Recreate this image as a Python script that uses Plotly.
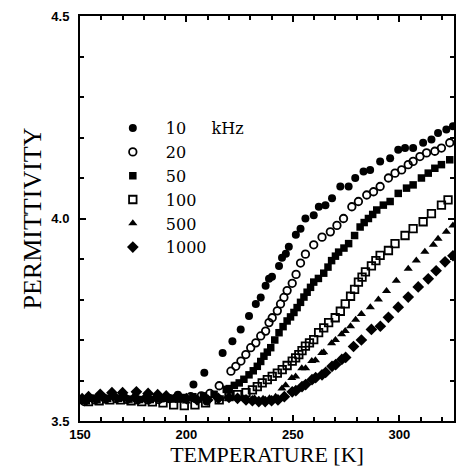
import plotly.graph_objects as go

# ---- data ----
labels = ["10\u00a0\u00a0\u00a0\u00a0\u00a0kHz", "20", "50", "100", "500", "1000"]

T10 = [151, 156, 161, 166, 171, 176, 181, 186, 191, 196, 203.3, 208.4, 209.5, 217, 221.6, 225.5, 229.4, 232.6, 234.9, 237.2,
       238.8, 240.2, 243.5, 244.9, 246.7, 248.1, 251.4, 253.6, 255.9, 259.8, 262.2, 265.3, 268.4, 272.3, 276.2, 279.3, 283.2,
       286.3, 291, 295.7, 299.5, 302.7, 306.5, 311.2, 315.1, 318.2, 322.1, 325.2]
V10 = [3.552, 3.556, 3.558, 3.560, 3.558, 3.556, 3.555, 3.556, 3.558, 3.565, 3.590, 3.619, 3.548, 3.668, 3.697, 3.726, 3.759,
       3.789, 3.805, 3.834, 3.851, 3.856, 3.883, 3.903, 3.913, 3.930, 3.960, 3.975, 4.000, 4.008, 4.029, 4.033, 4.050, 4.079,
       4.079, 4.100, 4.116, 4.120, 4.141, 4.149, 4.170, 4.174, 4.174, 4.187, 4.195, 4.211, 4.220, 4.228]

T20 = [152, 157, 162, 167, 172, 177, 182, 187, 192, 197, 202, 207, 211, 215.4, 220.9, 223.2, 225.6, 227.9, 230.2, 232.6,
       234.9, 237.2, 238.8, 240.3, 242.7, 244.2, 245.8, 247.3, 249.7, 251.5, 253.6, 255.9, 259.8, 263.7, 267.6, 270.7, 273.8,
       277.7, 280.8, 284.7, 287.9, 291, 294.9, 298, 301.1, 304.2, 306.5, 309.7, 312.8, 316.7, 319.8, 323.7]
V20 = [3.548, 3.552, 3.554, 3.555, 3.553, 3.552, 3.552, 3.553, 3.555, 3.557, 3.560, 3.562, 3.568, 3.587, 3.623, 3.635, 3.648,
       3.664, 3.681, 3.693, 3.710, 3.722, 3.743, 3.755, 3.772, 3.789, 3.805, 3.822, 3.840, 3.862, 3.890, 3.912, 3.935, 3.954,
       3.967, 3.983, 4.000, 4.029, 4.042, 4.058, 4.066, 4.079, 4.100, 4.112, 4.120, 4.133, 4.141, 4.153, 4.162, 4.166, 4.174,
       4.187]

T50 = [153, 158, 163, 168, 173, 178, 183, 188, 193, 198, 203, 208, 213, 218.7, 220.1, 222.5, 224.8, 227, 229.4, 231.4,
       233.3, 234.9, 236.4, 238, 239.6, 241.5, 243.5, 245.4, 247.3, 248.9, 250.5, 252, 253.6, 255.2, 256.7, 258.3, 259.8, 262,
       264.5, 266.5, 268.2, 270, 271.5, 274, 276.2, 279, 281.6, 283.5, 285.5, 287.5, 289.4, 292.5, 295.7, 299.5, 303.4, 306.5,
       310.4, 313.6, 316.7, 319.8, 323.7]
V50 = [3.550, 3.553, 3.556, 3.556, 3.554, 3.553, 3.553, 3.555, 3.556, 3.558, 3.560, 3.562, 3.566, 3.578, 3.580, 3.588, 3.594,
       3.603, 3.614, 3.624, 3.635, 3.647, 3.660, 3.670, 3.681, 3.700, 3.718, 3.733, 3.747, 3.757, 3.768, 3.780, 3.793, 3.806,
       3.818, 3.830, 3.843, 3.852, 3.865, 3.880, 3.896, 3.907, 3.917, 3.927, 3.938, 3.958, 3.979, 3.990, 4.000, 4.010, 4.021,
       4.033, 4.042, 4.062, 4.075, 4.083, 4.100, 4.112, 4.124, 4.133, 4.145]

T100 = [154, 159, 164, 169, 174, 179, 184, 189, 194, 199, 204, 209, 215.4, 220, 224, 228, 231, 233.3, 235.6, 238, 240.3,
        242.7, 245, 247.3, 249.7, 251.3, 252.8, 254.3, 255.9, 257.8, 259.8, 262.1, 264.5, 266.8, 269.9, 272.3, 274.6, 277.1,
        279, 280.8, 282.5, 284.1, 286.9, 289, 291, 294.9, 298, 302.7, 306.5, 311.2, 315.1, 319.8, 322.9]
V100 = [3.548, 3.550, 3.552, 3.552, 3.550, 3.548, 3.547, 3.545, 3.540, 3.538, 3.540, 3.545, 3.552, 3.560, 3.565, 3.570, 3.577,
        3.585, 3.594, 3.602, 3.610, 3.618, 3.627, 3.637, 3.648, 3.656, 3.664, 3.674, 3.685, 3.693, 3.701, 3.718, 3.730, 3.743,
        3.755, 3.771, 3.789, 3.808, 3.825, 3.843, 3.855, 3.868, 3.883, 3.896, 3.909, 3.921, 3.938, 3.958, 3.975, 3.992, 4.012,
        4.033, 4.046]

T500 = [155, 160, 165, 170, 175, 180, 185, 190, 195, 200, 205, 210, 216, 222, 227, 232, 236, 239, 241.9, 244.9, 246.6, 249.5,
        251.3, 254.2, 256, 258.9, 260.6, 263.6, 264.5, 268.2, 270, 272.9, 274.6, 277.1, 279.5, 282.2, 286.4, 290.2, 294, 298.6,
        304.2, 308, 312, 316, 318.2, 322.1, 325.2]
V500 = [3.552, 3.556, 3.560, 3.562, 3.560, 3.558, 3.556, 3.552, 3.550, 3.548, 3.550, 3.552, 3.555, 3.556, 3.556, 3.556, 3.555,
        3.556, 3.560, 3.580, 3.588, 3.606, 3.610, 3.630, 3.630, 3.648, 3.650, 3.668, 3.670, 3.692, 3.700, 3.714, 3.722, 3.734,
        3.750, 3.764, 3.781, 3.800, 3.821, 3.846, 3.876, 3.896, 3.918, 3.935, 3.950, 3.967, 3.983]

T1000 = [151, 154, 159.5, 165, 170, 176.5, 182, 186.5, 190.5, 195, 200, 205, 210, 215, 220, 224, 228, 231, 234, 237, 240, 243,
         246, 249.7, 251.4, 254.3, 256, 259, 260.7, 263.7, 265.4, 268.4, 270.1, 273, 274.8, 278.5, 282.2, 286.9, 291.1, 294.9,
         299.5, 304.2, 308.9, 313.6, 317.3, 321.5, 325.2]
V1000 = [3.555, 3.560, 3.566, 3.570, 3.570, 3.572, 3.568, 3.565, 3.562, 3.558, 3.555, 3.552, 3.552, 3.556, 3.558, 3.556, 3.552,
         3.550, 3.548, 3.548, 3.550, 3.552, 3.560, 3.572, 3.575, 3.585, 3.590, 3.602, 3.607, 3.614, 3.620, 3.635, 3.639, 3.652,
         3.657, 3.684, 3.700, 3.726, 3.734, 3.756, 3.781, 3.806, 3.831, 3.851, 3.871, 3.893, 3.908]

x_tick_vals = [150, 200, 250, 300]
y_tick_vals = [3.5, 4.0, 4.5]
y_tick_text = ["3.5", "4.0", "4.5"]

# ---- figure ----
series = [
    (labels[0], T10, V10, "circle", 8),
    (labels[1], T20, V20, "circle-open", 7.5),
    (labels[2], T50, V50, "square", 7.5),
    (labels[3], T100, V100, "square-open", 7.5),
    (labels[4], T500, V500, "triangle-up", 8),
    (labels[5], T1000, V1000, "diamond", 9),
]

fig = go.Figure()
for name, xs, ys, sym, sz in series:
    fig.add_trace(go.Scatter(
        x=xs, y=ys, mode="markers", name=name,
        marker=dict(symbol=sym, size=sz, color="black",
                    line=dict(color="black", width=1.8 if "open" in sym else 0)),
    ))

axis_common = dict(
    showline=True, linewidth=2, linecolor="black", mirror="ticks",
    ticks="inside", ticklen=6, tickwidth=1.5, tickcolor="black",
    showgrid=False, zeroline=False,
    tickfont=dict(family="Liberation Sans", size=13, color="black", weight="bold"),
)

fig.update_layout(
    width=457, height=469,
    margin=dict(l=80, r=1, t=16, b=48),
    paper_bgcolor="white", plot_bgcolor="white",
    showlegend=True,
    legend=dict(x=0.053, y=0.765, xanchor="left", yanchor="top",
                bgcolor="rgba(0,0,0,0)", borderwidth=0,
                font=dict(family="DejaVu Serif", size=16, color="black"),
                itemwidth=56, itemsizing="trace", tracegroupgap=0),
    xaxis=dict(
        range=[150, 325.7], tickvals=x_tick_vals,
        minor=dict(tick0=150, dtick=10, ticks="inside", ticklen=4, tickcolor="black", showgrid=False),
        title=dict(text="TEMPERATURE [K]", font=dict(family="Liberation Serif", size=22, color="black"), standoff=2),
        **axis_common,
    ),
    yaxis=dict(
        range=[3.5, 4.5], tickvals=y_tick_vals, ticktext=y_tick_text,
        minor=dict(tick0=3.5, dtick=0.1, ticks="inside", ticklen=4, tickcolor="black", showgrid=False),
        title=dict(text="PERMITTIVITY", font=dict(family="Liberation Serif", size=26, color="black"), standoff=2),
        ticklabelstandoff=6,
        **axis_common,
    ),
)

fig.write_html("out.html")
